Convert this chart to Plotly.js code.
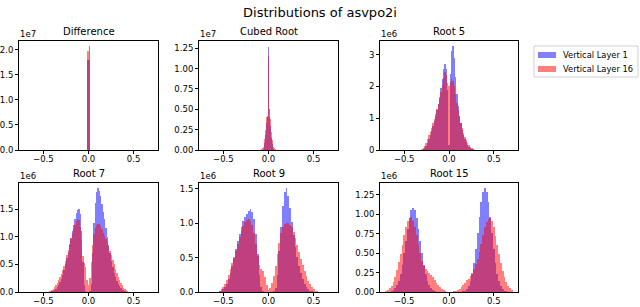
<!DOCTYPE html>
<html><head><meta charset="utf-8">
<script src="https://cdn.plot.ly/plotly-3.0.1.min.js"></script>
<style>html,body{margin:0;padding:0;background:#fff;}#chart{width:640px;height:307px;}</style>
</head><body><div id="chart"></div>
<script>
// ---------------- data (counts are in units of the panel exponent) ----------------
const seriesNames = ['Vertical Layer 1', 'Vertical Layer 16'];
const panelTitles = ['Difference', 'Cubed Root', 'Root 5', 'Root 7', 'Root 9', 'Root 15'];
const panelExponents = ['1e7', '1e7', '1e6', '1e6', '1e6', '1e6'];
const xTickValues = [-0.5, 0, 0.5];

// bin layout of each histogram: [first bin centre, bin width]
const diffBins = [-0.006, 0.012];
const diffLayer1 = [1.80, 2.07];
const diffLayer16 = [1.98, 1.80];

const cubedBins = [-0.09, 0.01];
const cubedLayer1 = [0,0,0,0.01,0.03,0.08,0.18,0.33,0.40,1.27,0.50,0.30,0.15,0.07,0.03,0.01,0,0,0];
const cubedLayer16 = [0.005,0.01,0.02,0.04,0.07,0.13,0.25,0.40,0.42,1.15,0.40,0.38,0.22,0.12,0.07,0.04,0.02,0.01,0.005];

const root5Bins = [-0.33, 0.015];
const root5Layer1 = [0,0,0.01,0.03,0.07,0.13,0.22,0.34,0.47,0.61,
  0.76,0.92,1.08,1.25,1.45,1.68,1.95,2.25,2.55,2.72,
  2.55,1.90,0.17,2.40,3.10,3.27,2.90,2.30,1.75,1.38,
  1.08,0.84,0.64,0.48,0.35,0.25,0.17,0.11,0.07,0.04,
  0.02,0.01,0,0,0];
const root5Layer16 = [0,0.01,0.03,0.07,0.13,0.22,0.34,0.46,0.58,0.70,
  0.84,0.98,1.12,1.28,1.45,1.62,1.82,2.05,2.28,2.45,
  2.35,2.10,2.00,2.15,2.22,2.18,2.00,1.75,1.48,1.25,
  1.05,0.86,0.70,0.54,0.41,0.31,0.22,0.15,0.09,0.05,
  0.03,0.015,0.005,0,0];

const root7Bins = [-0.45, 0.015];
const root7Layer1 = [0,0.003,0.008,0.015,0.025,0.04,0.06,0.09,0.13,0.18,
  0.24,0.31,0.40,0.50,0.61,0.73,0.86,0.98,1.10,1.22,
  1.33,1.43,1.49,1.51,1.42,1.10,0.55,0.12,0.01,0,
  0,0.01,0.15,0.70,1.25,1.62,1.82,1.89,1.84,1.74,
  1.60,1.46,1.32,1.16,1.00,0.85,0.70,0.57,0.45,0.35,
  0.27,0.20,0.14,0.10,0.07,0.045,0.03,0.015,0.008,0.003,
  0];
const root7Layer16 = [0.005,0.01,0.02,0.04,0.06,0.09,0.13,0.17,0.22,0.27,
  0.33,0.40,0.48,0.57,0.67,0.77,0.88,0.97,1.06,1.15,
  1.22,1.29,1.33,1.30,1.18,0.95,0.65,0.52,0.45,0.22,
  0.12,0.25,0.55,0.85,1.05,1.16,1.22,1.24,1.23,1.19,
  1.14,1.08,1.02,0.96,0.90,0.83,0.75,0.67,0.58,0.50,
  0.42,0.35,0.28,0.22,0.17,0.12,0.08,0.05,0.03,0.015,
  0.005];

const root9Bins = [-0.60, 0.02];
const root9Layer1 = [0,0,0.003,0.01,0.02,0.04,0.07,0.12,0.19,0.28,
  0.38,0.50,0.62,0.74,0.85,0.95,1.03,1.09,1.14,1.18,
  1.21,1.17,1.06,0.85,0.55,0.25,0.07,0.01,0,0,
  0,0,0,0.01,0.06,0.25,0.60,0.95,1.25,1.45,
  1.51,1.40,1.22,1.02,0.83,0.66,0.51,0.38,0.27,0.19,
  0.12,0.07,0.04,0.02,0.01,0.004,0,0,0,0,
  0];
const root9Layer16 = [0,0,0.005,0.015,0.04,0.07,0.12,0.18,0.25,0.33,
  0.42,0.51,0.60,0.70,0.80,0.89,0.96,1.02,1.05,1.06,
  1.04,0.98,0.86,0.70,0.52,0.40,0.34,0.30,0.22,0.10,
  0.03,0.06,0.13,0.24,0.38,0.55,0.72,0.86,0.95,0.99,
  1.00,1.00,0.98,0.94,0.87,0.78,0.68,0.58,0.48,0.39,
  0.31,0.23,0.16,0.11,0.07,0.04,0.02,0.01,0.005,0,
  0];

const root15Bins = [-0.70, 0.02];
const root15Layer1 = [0,0.002,0.005,0.012,0.025,0.048,0.086,0.146,0.233,0.351,
  0.495,0.656,0.815,0.953,1.047,1.08,1.047,0.953,0.815,0.656,
  0.495,0.351,0.233,0.146,0.086,0.048,0.025,0.012,0.005,0.002,
  0,0,0,0,0,0,0,0,0,0,
  0.001,0.002,0.004,0.008,0.018,0.039,0.074,0.137,0.233,0.37,
  0.547,0.753,0.966,1.153,1.283,1.33,1.283,1.153,0.966,0.753,
  0.547,0.37,0.233,0.137,0.074,0.039,0.018,0.008,0.003,0.001,
  0];
const root15Layer16 = [0.017,0.03,0.05,0.08,0.13,0.19,0.28,0.38,0.49,0.61,
  0.73,0.84,0.91,0.95,0.96,0.91,0.84,0.73,0.62,0.50,
  0.40,0.33,0.29,0.27,0.25,0.22,0.19,0.15,0.12,0.09,
  0.07,0.04,0.02,0.01,0.005,0.002,0.003,0.005,0.008,0.012,
  0.02,0.04,0.06,0.09,0.12,0.15,0.17,0.20,0.24,0.29,
  0.36,0.43,0.52,0.62,0.73,0.83,0.90,0.94,0.95,0.91,
  0.83,0.72,0.61,0.49,0.37,0.27,0.19,0.13,0.08,0.05,
  0.03];

// ---------------- figure ----------------
const W = 640, H = 307;
const panels = [
  {bins: diffBins, a: diffLayer1, b: diffLayer16, ymax: 2.17, dtick: 0.5, fmt: '.1f'},
  {bins: cubedBins, a: cubedLayer1, b: cubedLayer16, ymax: 1.34, dtick: 0.25, fmt: '.2f'},
  {bins: root5Bins, a: root5Layer1, b: root5Layer16, ymax: 3.43, dtick: 1, fmt: '.0f'},
  {bins: root7Bins, a: root7Layer1, b: root7Layer16, ymax: 1.98, dtick: 0.5, fmt: '.1f'},
  {bins: root9Bins, a: root9Layer1, b: root9Layer16, ymax: 1.586, dtick: 0.5, fmt: '.1f'},
  {bins: root15Bins, a: root15Layer1, b: root15Layer16, ymax: 1.40, dtick: 0.25, fmt: '.2f'}
];
const colPx = [[19, 158], [199, 338], [380, 518]];
const rowPx = [[41, 150], [183, 292]];
const colors = ['#0000ff', '#ff0000'];
const swatchColors = ['rgba(0,0,255,0.5)', 'rgba(255,0,0,0.5)'];
const font = 'DejaVu Sans, sans-serif';
const px = v => v / W, py = v => 1 - v / H;

const traces = [];
const layout = {
  width: W, height: H,
  margin: {l: 0, r: 0, t: 0, b: 0},
  paper_bgcolor: '#fff', plot_bgcolor: '#fff',
  barmode: 'overlay', bargap: 0,
  font: {family: font, size: 8.5, color: '#000'},
  title: {text: 'Distributions of asvpo2i', x: 0.5, xanchor: 'center', y: py(12), yanchor: 'middle',
          font: {family: font, size: 13, color: '#000'}},
  showlegend: false,
  annotations: [],
  shapes: []
};

panels.forEach((p, k) => {
  const n = k + 1;
  const xs = p.a.map((_, i) => p.bins[0] + i * p.bins[1]);
  [p.a, p.b].forEach((vals, s) => {
    traces.push({
      type: 'bar', x: xs, y: vals, width: p.bins[1],
      xaxis: 'x' + n, yaxis: 'y' + n, name: seriesNames[s],
      marker: {color: colors[s], opacity: 0.5, line: {width: 0}},
      hoverinfo: 'skip'
    });
  });
  const c = colPx[k % 3], r = rowPx[Math.floor(k / 3)];
  const xd = [px(c[0]), px(c[1])], yd = [py(r[1]), py(r[0])];
  const axCommon = {showline: true, mirror: true, linecolor: '#000', linewidth: 1,
    ticks: 'outside', ticklen: 3, tickwidth: 1, tickcolor: '#000',
    showgrid: false, zeroline: false, tickfont: {family: font, size: 8.5, color: '#000'}};
  layout['xaxis' + n] = Object.assign({}, axCommon, {
    domain: xd, anchor: 'y' + n, range: [-0.77, 0.77],
    tickmode: 'array', tickvals: xTickValues, tickformat: '.1f', ticklabelstandoff: -2});
  layout['yaxis' + n] = Object.assign({}, axCommon, {
    domain: yd, anchor: 'x' + n, range: [0, p.ymax],
    tick0: 0, dtick: p.dtick, tickformat: p.fmt});
  layout.annotations.push({
    text: panelTitles[k], xref: 'paper', yref: 'paper',
    x: (xd[0] + xd[1]) / 2, y: yd[1], xanchor: 'center', yanchor: 'bottom', yshift: 2,
    showarrow: false, font: {family: font, size: 10, color: '#000'}});
  layout.annotations.push({
    text: panelExponents[k], xref: 'paper', yref: 'paper',
    x: xd[0], y: yd[1], xanchor: 'left', yanchor: 'bottom', yshift: 0, xshift: -1,
    showarrow: false, font: {family: font, size: 8.5, color: '#000'}});
});

// legend (drawn as shapes + text so its compact matplotlib spacing can be matched)
layout.shapes.push({type: 'rect', xref: 'paper', yref: 'paper',
  x0: px(534), x1: px(638), y0: py(77), y1: py(46),
  line: {color: '#d0d0d0', width: 1}, fillcolor: 'rgba(255,255,255,0.8)', layer: 'above'});
seriesNames.forEach((name, s) => {
  const yc = 55 + s * 14;
  layout.shapes.push({type: 'rect', xref: 'paper', yref: 'paper',
    x0: px(538), x1: px(556), y0: py(yc + 3), y1: py(yc - 3),
    line: {width: 0}, fillcolor: swatchColors[s], layer: 'above'});
  layout.annotations.push({text: name, xref: 'paper', yref: 'paper',
    x: px(561), y: py(yc), xanchor: 'left', yanchor: 'middle', showarrow: false,
    font: {family: font, size: 8.3, color: '#000'}});
});

Plotly.newPlot('chart', traces, layout, {displayModeBar: false, staticPlot: true});
</script>
</body></html>
